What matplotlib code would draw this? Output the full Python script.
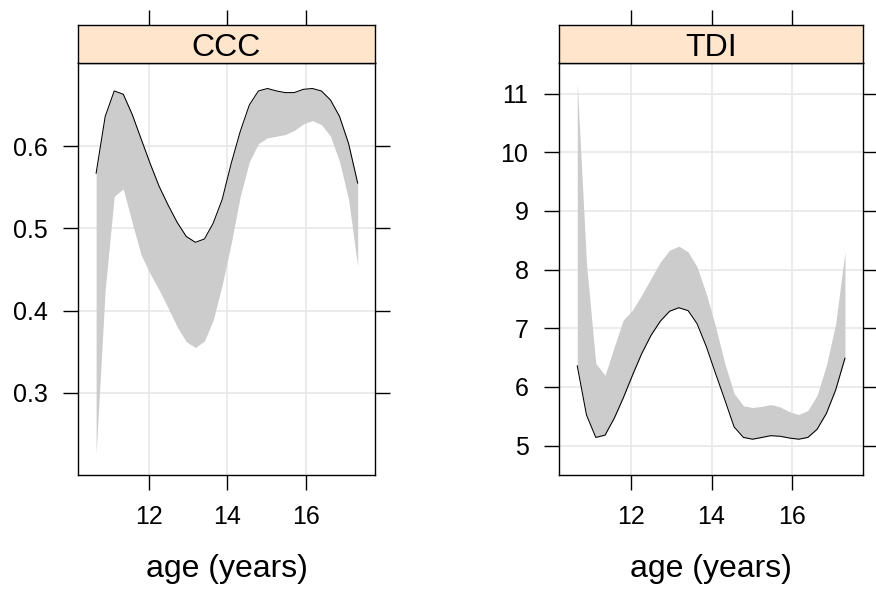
import numpy as np
import matplotlib
matplotlib.use("Agg")
import matplotlib.pyplot as plt

plt.rcParams['font.family'] = ['Liberation Sans', 'DejaVu Sans']

# ages (years) at which the curves are evaluated
age = [10.67, 10.90, 11.13, 11.36, 11.59, 11.81, 12.04, 12.27, 12.50, 12.73,
       12.96, 13.19, 13.42, 13.64, 13.87, 14.10, 14.33, 14.56, 14.79, 15.02,
       15.25, 15.47, 15.70, 15.93, 16.16, 16.39, 16.62, 16.85, 17.08, 17.31]

# CCC: fitted line and lower limit of the shaded band
ccc_fit = [0.567, 0.636, 0.667, 0.663, 0.638, 0.609, 0.579, 0.551, 0.528, 0.507,
           0.490, 0.483, 0.487, 0.506, 0.535, 0.579, 0.618, 0.650, 0.667, 0.670,
           0.667, 0.665, 0.665, 0.669, 0.670, 0.667, 0.656, 0.636, 0.603, 0.555]
ccc_low = [0.226, 0.425, 0.539, 0.548, 0.506, 0.468, 0.445, 0.425, 0.403, 0.380,
           0.362, 0.355, 0.363, 0.388, 0.431, 0.482, 0.539, 0.581, 0.603, 0.610,
           0.612, 0.614, 0.619, 0.627, 0.631, 0.626, 0.612, 0.581, 0.535, 0.454]

# TDI: fitted line and upper limit of the shaded band
tdi_fit = [6.36, 5.52, 5.14, 5.18, 5.47, 5.81, 6.20, 6.57, 6.88, 7.12,
           7.29, 7.35, 7.30, 7.08, 6.69, 6.23, 5.78, 5.32, 5.14, 5.11,
           5.14, 5.17, 5.16, 5.13, 5.11, 5.14, 5.28, 5.55, 5.95, 6.49]
tdi_up = [11.17, 8.10, 6.40, 6.20, 6.69, 7.14, 7.31, 7.57, 7.85, 8.13,
          8.33, 8.40, 8.30, 8.05, 7.59, 7.03, 6.40, 5.89, 5.68, 5.65,
          5.67, 5.70, 5.66, 5.58, 5.53, 5.60, 5.86, 6.37, 7.08, 8.30]

x_ticks = [12, 14, 16]
ccc_ticks = [0.3, 0.4, 0.5, 0.6]
tdi_ticks = [5, 6, 7, 8, 9, 10, 11]

W, H = 876, 589
fig = plt.figure(figsize=(W / 100, H / 100), dpi=100)

band_col = '#cccccc'
grid_col = '#e6e6e6'
strip_col = '#ffe5cc'
tick_len = 10.8
lw_frame = 1.0


def panel(x0, x1, title, lo, hi, ylim, yticks, ylabels):
    top, bot, strip_top = 63, 475, 25
    ax = fig.add_axes([x0 / W, (H - bot) / H, (x1 - x0) / W, (bot - top) / H])
    sx = fig.add_axes([x0 / W, (H - top) / H, (x1 - x0) / W, (top - strip_top) / H])

    ax.fill_between(age, lo, hi, color=band_col, linewidth=0, zorder=2)
    line = hi if title == 'CCC' else lo
    ax.plot(age, line, color='black', linewidth=0.75, zorder=3)

    ax.set_xlim(10.21, 17.75)
    ax.set_ylim(*ylim)
    ax.set_xticks(x_ticks)
    ax.set_yticks(yticks)
    ax.set_yticklabels(ylabels)
    ax.grid(True, color=grid_col, linewidth=1.1, zorder=0)
    ax.set_axisbelow(True)
    ax.tick_params(direction='out', length=tick_len, width=lw_frame, labelsize=18,
                   pad=11, right=True, top=False, labelright=False)
    for s in ax.spines.values():
        s.set_linewidth(lw_frame)

    sx.set_facecolor(strip_col)
    sx.set_xlim(10.21, 17.75)
    sx.set_ylim(0, 1)
    sx.set_xticks(x_ticks)
    sx.set_yticks([])
    sx.tick_params(axis='x', direction='out', length=tick_len, width=lw_frame,
                   top=True, bottom=False, labeltop=False, labelbottom=False)
    for s in sx.spines.values():
        s.set_linewidth(lw_frame)
    sx.text(0.5, 7 / 38, title, transform=sx.transAxes, ha='center',
            va='baseline', fontsize=23)

    fig.text((x0 + x1) / 2 / W, (H - 577) / H, 'age (years)', ha='center',
             va='baseline', fontsize=23)
    return ax


panel(78, 375, 'CCC', ccc_low, ccc_fit, (0.2, 0.701), ccc_ticks,
      ['0.3', '0.4', '0.5', '0.6'])
panel(558.7, 862.7, 'TDI', tdi_fit, tdi_up, (4.5, 11.52), tdi_ticks,
      [str(t) for t in tdi_ticks])

fig.savefig('out.png', dpi=100)
